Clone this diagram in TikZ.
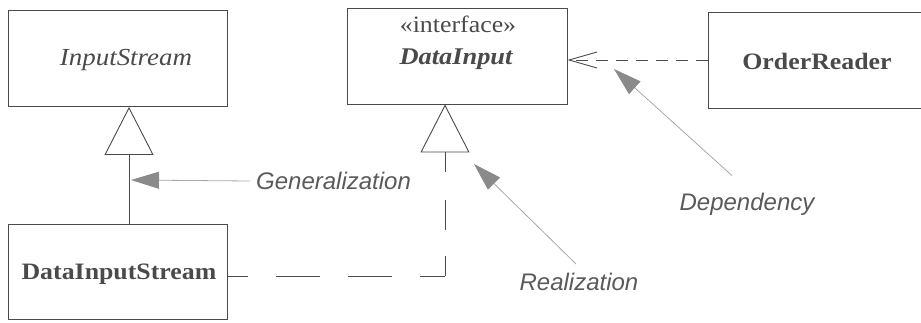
\documentclass[tikz,border=0pt]{standalone}
\usepackage{fontspec}
\setmainfont{Liberation Serif}
\newfontfamily\boxfont[FakeStretch=1.1]{Liberation Serif}
\newfontfamily\labfont{Liberation Sans}
\usetikzlibrary{arrows.meta}
\definecolor{ink}{HTML}{4A4A4A}
\definecolor{note}{HTML}{5A5A5A}
\definecolor{noteline}{HTML}{A8A8A8}
\definecolor{notetip}{HTML}{8A8A8A}
\tikzset{
  cls/.style={draw=ink, line width=0.9pt, minimum width=219pt, minimum height=96pt, inner sep=0pt},
  clstext/.style={text=ink, inner sep=0pt},
  lbl/.style={text=note, inner sep=0pt, font=\labfont\itshape\fontsize{24}{28}\selectfont},
  conn/.style={draw=ink, line width=0.9pt},
  inherit/.style={-{Triangle[open, length=48pt, width=49pt, line width=0.9pt]}},
  realdash/.style={dash pattern=on 44pt off 28pt, dash phase=23pt},
  depdash/.style={dash pattern=on 12pt off 8pt},
  notearrow/.style={draw=noteline, line width=0.8pt, -{Triangle[length=28pt, width=17pt, fill=notetip, color=notetip]}}
}
\begin{document}
\begin{tikzpicture}[x=1pt, y=-1pt]
\useasboundingbox (0,0) rectangle (921,322);
% classes
\node[cls] (is) at (117.5,58.5) {};
\node[clstext, font=\boxfont\itshape\fontsize{24.5}{28}\selectfont] (istxt) at (126,60) {InputStream};
\node[cls, minimum height=95pt] (dis) at (117.5,271.5) {};
\node[clstext, font=\boxfont\bfseries\fontsize{23.5}{28}\selectfont] (distxt) at (119,274) {DataInputStream};
\node[cls, minimum width=220pt] (di) at (457,56) {};
\node[clstext, font=\boxfont\fontsize{23.5}{28}\selectfont] (ster) at (458,24) {«interface»};
\node[clstext, font=\boxfont\bfseries\itshape\fontsize{24}{28}\selectfont] (ditxt) at (456,59) {DataInput};
\node[cls, minimum width=213pt] (or) at (814.5,60) {};
\node[clstext, font=\boxfont\bfseries\fontsize{23.5}{28}\selectfont] (ortxt) at (817,61) {OrderReader};
% generalization
\draw[conn, inherit] (dis.north -| 129,0) -- (is.south -| 129,0);
% realization
\coordinate (rc) at (445,276);
\draw[conn, realdash] (dis.east |- rc) -- (rc);
\draw[conn, dash pattern=on 20pt off 26pt on 30pt off 28pt] (rc) -- (445,152);
\draw[conn, inherit] (445,156) -- (di.south -| 445,0);
% dependency
\draw[conn, depdash, -{Straight Barb[length=28pt, width=16pt, line width=0.9pt]}] (or.west) -- (di.east |- or.west);
% notes
\node[lbl, anchor=west] (gen) at (256,181) {Generalization};
\node[lbl] (real) at (579,282) {Realization};
\node[lbl] (dep) at (747,204) {Dependency};
\coordinate (gentip) at (131,180);
\coordinate (realtip) at (474,164);
\coordinate (deptip) at (614,69);
\draw[notearrow] (gen.west) ++(-6,0) -- (gentip);
\draw[notearrow] (real.north) ++(-3,-9) -- (realtip);
\draw[notearrow] (dep.north) ++(-15,-17) -- (deptip);
\end{tikzpicture}
\end{document}
